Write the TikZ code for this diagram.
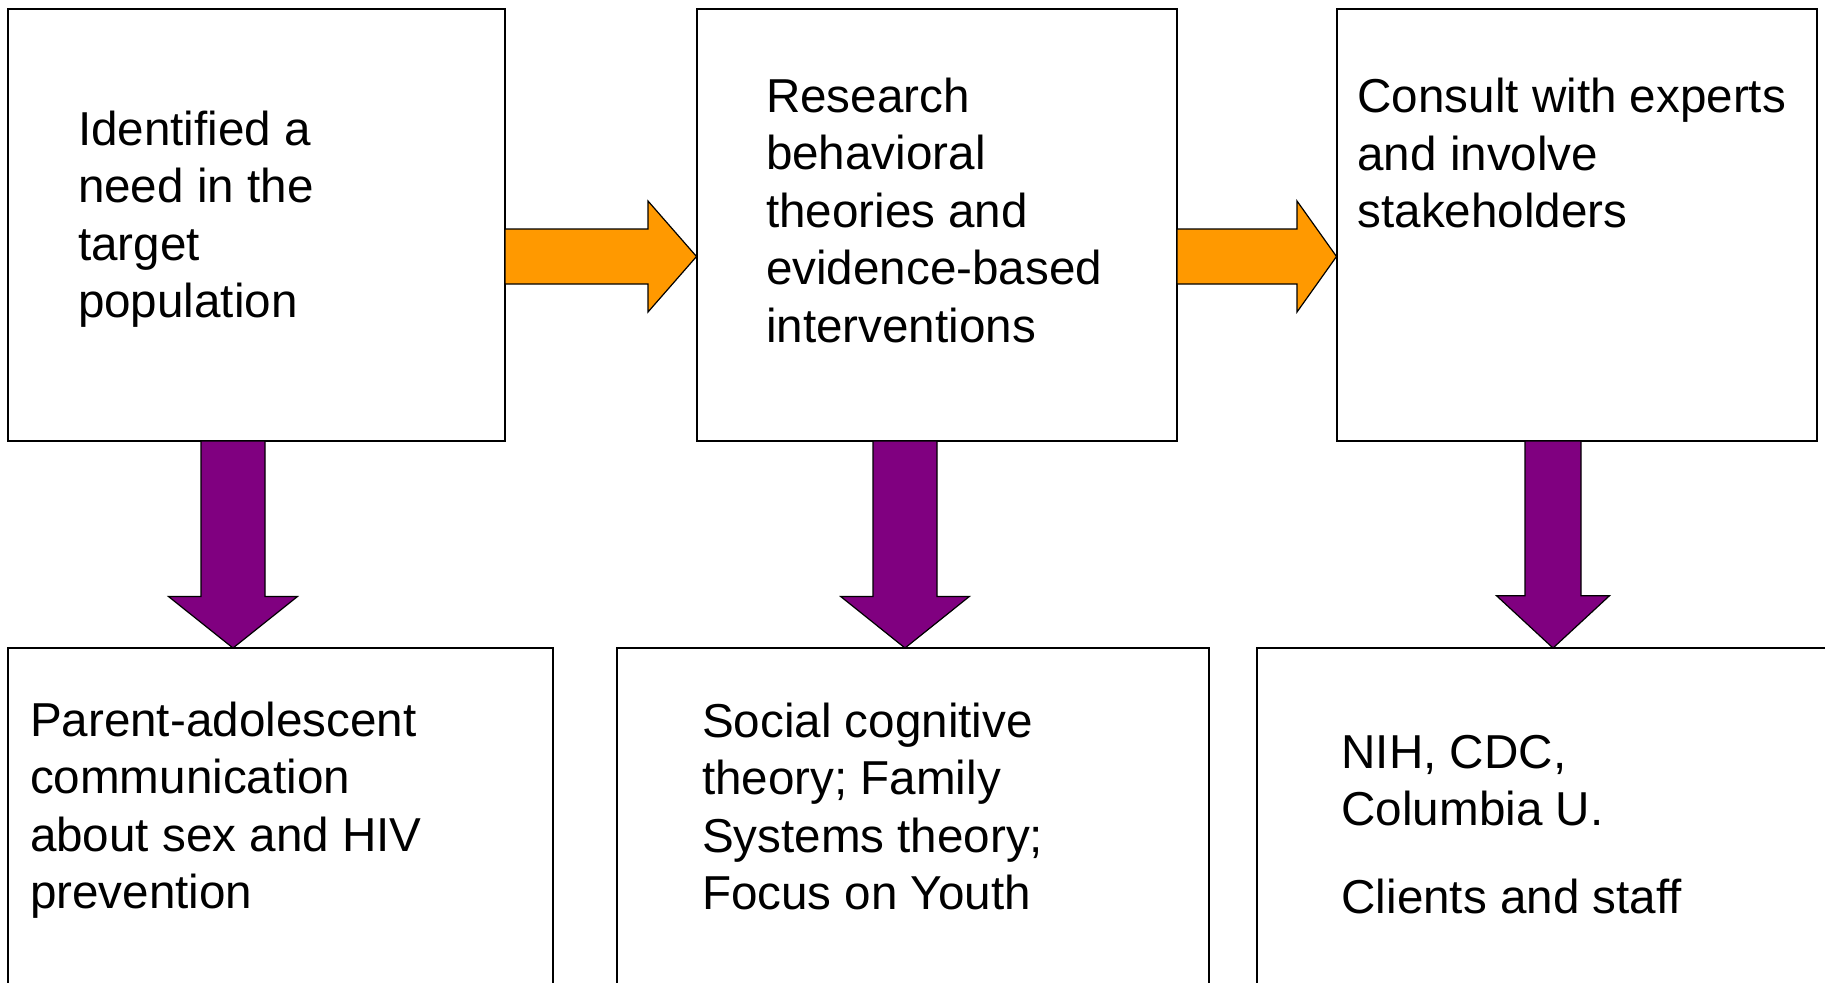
\documentclass[tikz,border=0pt]{standalone}
\usepackage{fontspec}
\setmainfont{Liberation Sans}
\usetikzlibrary{calc}
\definecolor{arroworange}{HTML}{FF9900}
\definecolor{arrowpurple}{HTML}{800080}
% #1 style, #2 start coord, #3 tip coord, #4 shaft half, #5 head half, #6 head length
\newcommand{\hblockarrow}[6]{%
  \draw[#1] ($(#2)+(0,-#4)$) -- ($(#3)+(-#6,-#4)$) -- ($(#3)+(-#6,-#5)$) -- (#3)
    -- ($(#3)+(-#6,#5)$) -- ($(#3)+(-#6,#4)$) -- ($(#2)+(0,#4)$) -- cycle;}
\newcommand{\vblockarrow}[6]{%
  \draw[#1] ($(#2)+(-#4,0)$) -- ($(#3)+(-#4,-#6)$) -- ($(#3)+(-#5,-#6)$) -- (#3)
    -- ($(#3)+(#5,-#6)$) -- ($(#3)+(#4,-#6)$) -- ($(#2)+(#4,0)$) -- cycle;}
\begin{document}
\begin{tikzpicture}[x=0.5pt,y=-0.5pt,
  box/.style={draw=black,line width=1pt,rectangle,inner sep=0pt,outer sep=0pt,fill=white},
  txt/.style={anchor=base west,inner sep=0pt,outer sep=0pt,font=\fontsize{23.8pt}{28.75pt}\selectfont},
  orangearrow/.style={fill=arroworange,draw=black,line width=0.6pt,line join=miter},
  purplearrow/.style={fill=arrowpurple,draw=black,line width=0.6pt,line join=miter}]
\useasboundingbox (0,0) rectangle (1825,982);
\clip (0,0) rectangle (1825,982);
\fill[white] (0,0) rectangle (1825,982);
% top boxes
\node[box,minimum width=248.5pt,minimum height=216pt] (b1) at (256.5,225) {};
\node[box,minimum width=240.25pt,minimum height=216pt] (b2) at (936.75,225) {};
\node[box,minimum width=240.25pt,minimum height=216pt] (b3) at (1576.75,225) {};
% bottom boxes (run past the lower edge)
\node[box,minimum width=272.5pt,minimum height=226pt] (b4) at (280.5,874) {};
\node[box,minimum width=295.75pt,minimum height=226pt] (b5) at (912.75,874) {};
\node[box,minimum width=321.5pt,minimum height=226pt] (b6) at (1578.5,874) {};
% reference coordinates for arrow axes
\coordinate (h1) at (0,256.5);
\coordinate (v1) at (233,0);
\coordinate (v2) at (905,0);
\coordinate (v3) at (1553,0);
% orange arrows
\hblockarrow{orangearrow}{b1.east |- h1}{b2.west |- h1}{27.5}{55.5}{48.5}
\hblockarrow{orangearrow}{b2.east |- h1}{b3.west |- h1}{27.5}{55.5}{39.5}
% purple arrows
\vblockarrow{purplearrow}{b1.south -| v1}{b4.north -| v1}{32}{64.5}{51.5}
\vblockarrow{purplearrow}{b2.south -| v2}{b5.north -| v2}{32}{64.3}{51.5}
\vblockarrow{purplearrow}{b3.south -| v3}{b6.north -| v3}{28}{56.5}{52.3}
% texts
\node[txt] (t1) at (78,145) {\begin{tabular}[t]{@{}l@{}}Identified a\\need in the\\target\\population\end{tabular}};
\node[txt] (t2) at (766,112) {\begin{tabular}[t]{@{}l@{}}Research\\behavioral\\theories and\\evidence-based\\interventions\end{tabular}};
\node[txt] (t3) at (1357.5,112.7) {\begin{tabular}[t]{@{}l@{}}Consult with experts\\and involve\\stakeholders\end{tabular}};
\node[txt] (t4) at (30,736) {\begin{tabular}[t]{@{}l@{}}Parent-adolescent\\communication\\about sex and HIV\\prevention\end{tabular}};
\node[txt] (t5) at (702,737) {\begin{tabular}[t]{@{}l@{}}Social cognitive\\theory; Family\\Systems theory;\\Focus on Youth\end{tabular}};
\node[txt] (t6) at (1341.5,768.4) {\begin{tabular}[t]{@{}l@{}}NIH, CDC,\\Columbia U.\\[14.8pt]Clients and staff\end{tabular}};
\end{tikzpicture}
\end{document}
